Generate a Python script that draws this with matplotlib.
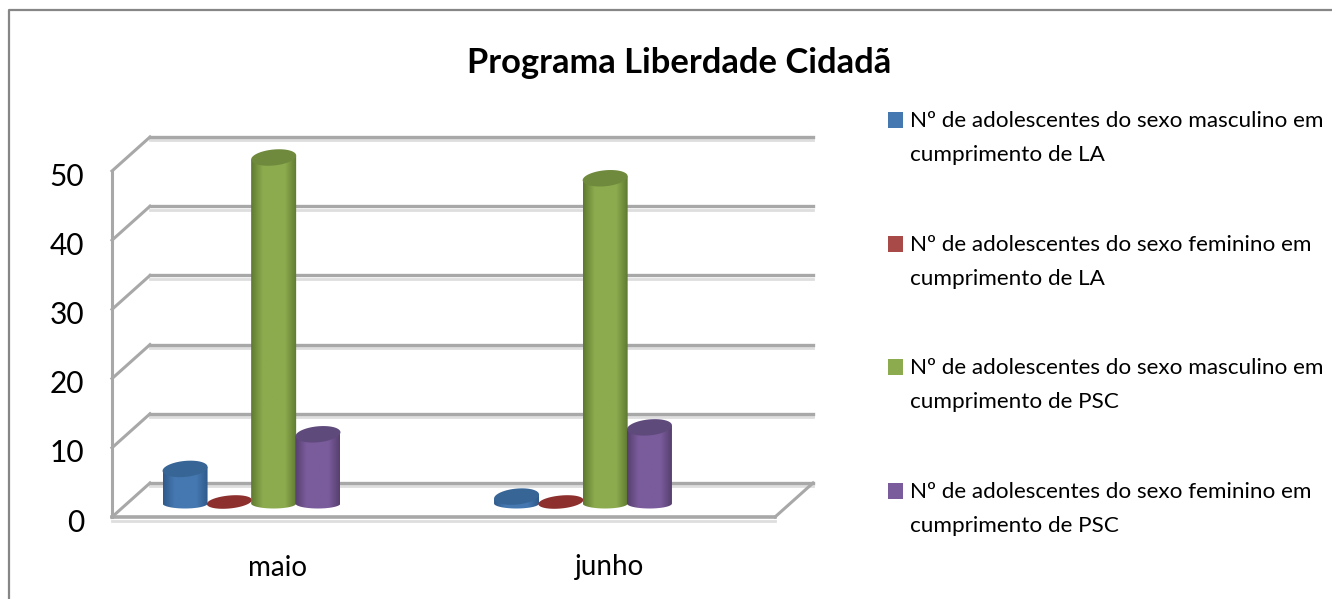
import numpy as np
import matplotlib
matplotlib.use("Agg")
import matplotlib.pyplot as plt
from matplotlib.colors import LinearSegmentedColormap
from matplotlib.patches import Polygon, PathPatch, Rectangle
from matplotlib.path import Path
from matplotlib.transforms import ScaledTranslation

months = ["maio", "junho"]
series = [
    "Nº de adolescentes do sexo masculino em\ncumprimento de LA",
    "Nº de adolescentes do sexo feminino em\ncumprimento de LA",
    "Nº de adolescentes do sexo masculino em\ncumprimento de PSC",
    "Nº de adolescentes do sexo feminino em\ncumprimento de PSC",
]
masc_la = [5, 1]
fem_la = [0, 0]
masc_psc = [50, 47]
fem_psc = [10, 11]
yticks = [0, 10, 20, 30, 40, 50]

colors = ["#4578b0", "#a84a48", "#8cab4e", "#7a5c9c"]
dark = ["#2f5a8c", "#8c2f2d", "#5f7a30", "#57406f"]
top_c = ["#376596", "#963a38", "#6f8a3c", "#5f4a7c"]
legend_y = [138, 262, 385, 509]

plt.rcParams["font.family"] = ["Lato", "DejaVu Sans"]

W, H = 1332, 599
fig = plt.figure(figsize=(W / 100, H / 100), dpi=100, facecolor="white")

# figure frame, open on the right and at the bottom
fig.add_artist(plt.Line2D([8.5 / W, 8.5 / W, 1], [0, 1 - 9.5 / H, 1 - 9.5 / H],
                          color="#868686", lw=1.6))

ax = fig.add_axes([112 / W, 1 - 517 / H, 663 / W, 346 / H])
ax.set_xlim(0, 2)
ax.set_ylim(0, 50)
ax.set_autoscale_on(False)

px_x = 2 / 663
px_y = 50 / 346
dx = 38 * px_x
dy = 34 * px_y


def disc(ax, xc, yc, w, ry, color, z):
    t = np.linspace(0, 2 * np.pi, 60)
    xs = xc + w / 2 * np.cos(t)
    ys = yc + ry * np.sin(t) + 2 * px_y * np.cos(t)
    ax.add_patch(Polygon(np.column_stack([xs, ys]), fc=color, ec="none", zorder=z, clip_on=False))


def cylinder(ax, xc, val, w, col, dk, top):
    base = 13.5 * px_y
    ry = 8 * px_y
    ry_low = 5 * px_y
    if val == 0:
        disc(ax, xc, 15 * px_y, w, 6.5 * px_y, dk, 4)
        return
    t = np.linspace(np.pi, 2 * np.pi, 40)
    xs = xc + w / 2 * np.cos(t)
    yb = base + ry_low * np.sin(t)
    yt = base + val + 2 * px_y * np.cos(t[::-1])
    verts = list(zip(xs, yb)) + list(zip(xs[::-1], yt)) + [(xs[0], yb[0])]
    codes = [Path.MOVETO] + [Path.LINETO] * (len(verts) - 2) + [Path.CLOSEPOLY]
    clip = PathPatch(Path(verts, codes), transform=ax.transData, fc="none", ec="none", clip_on=False)
    ax.add_patch(clip)
    cm = LinearSegmentedColormap.from_list("c", [dk, col, col, col, dk])
    grad = np.linspace(0, 1, 64).reshape(1, -1)
    im = ax.imshow(grad, cmap=cm, aspect="auto", extent=(xc - w / 2, xc + w / 2, 0, 60), zorder=4)
    im.set_clip_box(fig.bbox)
    im.set_clip_path(clip)
    disc(ax, xc, base + val, w, ry, top, 5)


# walls and gridlines
grid_c = "#a8a8a8"
for v in yticks:
    ax.plot([0, dx], [v, v + dy], color=grid_c, lw=2.2, clip_on=False, zorder=2)
    ax.plot([dx, 2 + dx], [v + dy - 0.5, v + dy - 0.5], color="#dedede", lw=2, clip_on=False, zorder=1)
    ax.plot([dx, 2 + dx], [v + dy, v + dy], color=grid_c, lw=2.4, clip_on=False, zorder=2)
ax.plot([2, 2 + dx], [0, dy], color=grid_c, lw=2.2, clip_on=False, zorder=2)
ax.plot([0, 2], [-0.6, -0.6], color="#dedede", lw=2, clip_on=False, zorder=1)
ax.plot([0, 2], [0, 0], color=grid_c, lw=2.6, clip_on=False, zorder=2)

for s in ["top", "right", "bottom"]:
    ax.spines[s].set_visible(False)
ax.spines["left"].set_color(grid_c)
ax.spines["left"].set_linewidth(2.2)

# bars
all_vals = [masc_la, fem_la, masc_psc, fem_psc]
width = 45 * px_x
step = 44.3 * px_x
group = 139.5 * px_x
for i in range(len(months)):
    for j, vals in enumerate(all_vals):
        xc = i + group + (j - 1.5) * step
        cylinder(ax, xc, vals[i], width, colors[j], dark[j], top_c[j])

ax.set_xticks([0.5, 1.5])
ax.set_xticklabels(months, fontsize=20)
ax.set_yticks(yticks)
ax.set_yticklabels([str(v) for v in yticks], fontsize=21.5)
ax.tick_params(axis="both", length=0, colors="black")
ax.tick_params(axis="x", pad=27)
ax.tick_params(axis="y", pad=20)
ax.patch.set_alpha(0)
down = ScaledTranslation(0, -3 / 100, fig.dpi_scale_trans)
for lab in ax.get_yticklabels():
    lab.set_transform(lab.get_transform() + down)

fig.text(679 / W, 1 - 63 / H, "Programa Liberdade Cidadã", ha="center", va="center",
         fontsize=24.8, fontweight="bold")

# legend, first line of each entry lines up with its swatch
for c, s, y in zip(colors, series, legend_y):
    fig.text(910 / W, 1 - y / H, s, ha="left", va="center", fontsize=16.2, linespacing=1.9)
    fig.add_artist(Rectangle((888 / W, 1 - (y - 10) / H), 15 / W, 16 / H, fc=c, ec="none",
                             transform=fig.transFigure))

fig.savefig("out.png", dpi=100, facecolor="white")
